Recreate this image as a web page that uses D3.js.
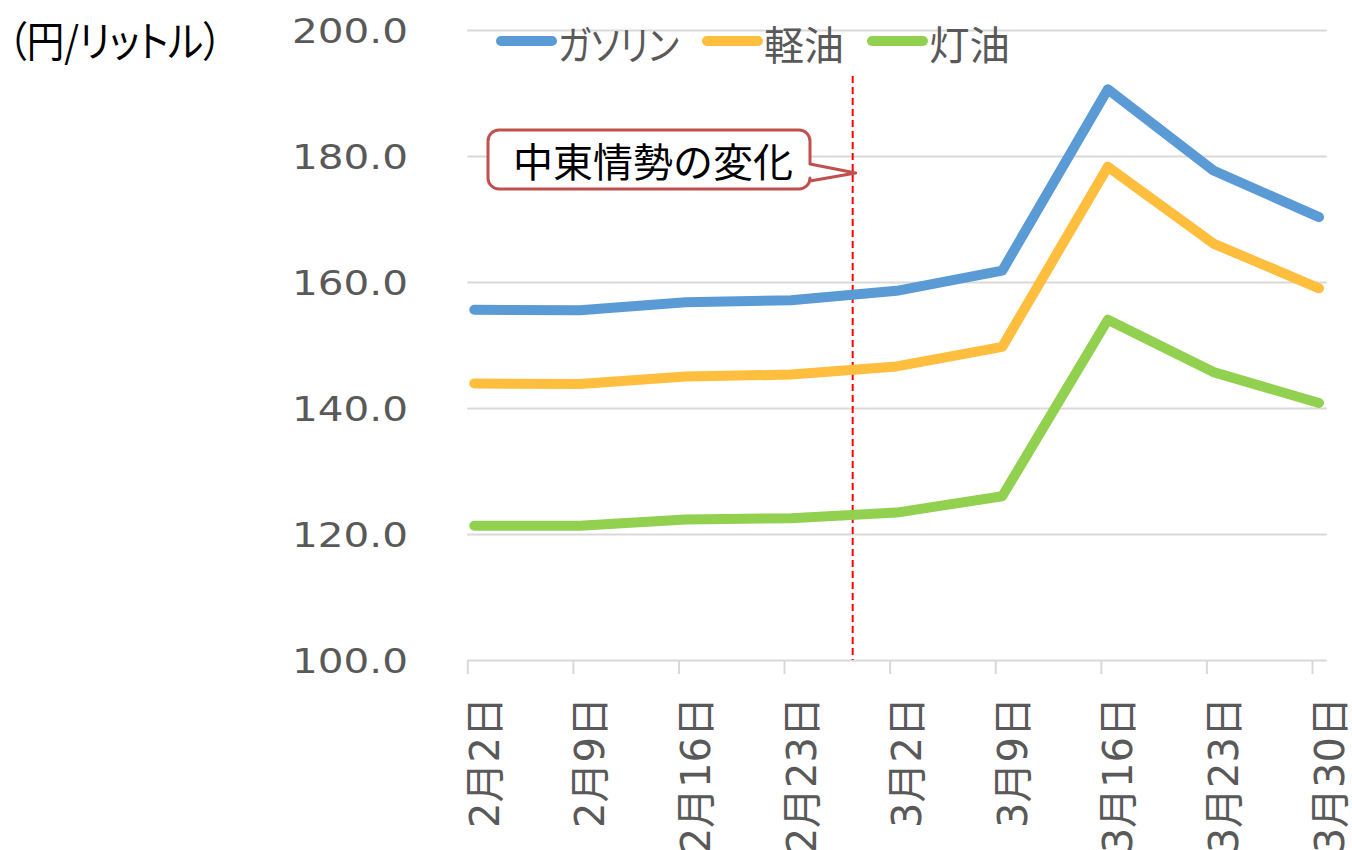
<!DOCTYPE html>
<html>
<head>
<meta charset="utf-8">
<script src="https://cdn.jsdelivr.net/npm/d3@7"></script>
<style>
  html, body { margin: 0; padding: 0; background: #fff; }
  svg { display: block; }
  .jp { font-family: "Noto Sans CJK JP", sans-serif; font-feature-settings: "palt"; }
</style>
</head>
<body>
<div id="chart"></div>
<script>
const categories = ['2月2日', '2月9日', '2月16日', '2月23日', '3月2日', '3月9日', '3月16日', '3月23日', '3月30日'];
const gasoline = [155.6, 155.5, 156.8, 157.1, 158.6, 161.8, 190.6, 177.7, 170.3];
const diesel = [143.9, 143.8, 145.0, 145.3, 146.6, 149.7, 178.3, 166.1, 159.0];
const kerosene = [121.3, 121.3, 122.3, 122.5, 123.4, 126.0, 154.0, 145.7, 140.8];
const seriesNames = ['ガソリン', '軽油', '灯油'];
const yTicks = [100, 120, 140, 160, 180, 200];
const eventIndex = 3.65; // between 2月23日 and 3月2日
const eventLabel = '中東情勢の変化';
const unitLabel = '（円/リットル）';

const width = 1352;
const height = 850;
const colors = ['#5b9bd5', '#ffbe3d', '#92d050'];
const gridColor = '#d9d9d9';
const textColor = '#595959';

const plotLeft = 467.3;
const plotRight = 1326.7;
const lastTick = 1312;
const pointOffset = 7;

const x = d3.scalePoint().domain(categories).range([plotLeft, lastTick]);
const xIndex = d3.scaleLinear().domain([0, categories.length - 1]).range([plotLeft, lastTick]);
const y = d3.scaleLinear().domain([100, 200]).range([660, 30]);

const svg = d3.select('#chart').append('svg')
  .attr('width', width)
  .attr('height', height);

// gridlines + y labels
const yAxis = svg.append('g')
  .attr('transform', `translate(${plotLeft},0)`)
  .call(d3.axisLeft(y)
    .tickValues(yTicks)
    .tickFormat(d3.format('.1f'))
    .tickSize(-(plotRight - plotLeft))
    .tickPadding(plotLeft - 408));
yAxis.select('.domain').remove();
yAxis.selectAll('line').attr('stroke', gridColor).attr('stroke-width', 2);
yAxis.selectAll('text')
  .attr('fill', textColor)
  .attr('font-family', '"DejaVu Sans", sans-serif')
  .attr('font-size', 34)
  .attr('dy', '0.36em')
  .attr('textLength', 116)
  .attr('lengthAdjust', 'spacingAndGlyphs');

// x axis ticks and labels
const xAxis = svg.append('g')
  .attr('transform', `translate(0,${y(100)})`)
  .call(d3.axisBottom(x).tickSize(14).tickSizeOuter(0));
xAxis.select('.domain').remove();
xAxis.selectAll('line').attr('stroke', gridColor).attr('stroke-width', 2);
xAxis.selectAll('text')
  .attr('fill', textColor)
  .attr('font-family', '"DejaVu Sans", "Noto Sans CJK JP", sans-serif')
  .attr('font-size', 40)
  .attr('text-anchor', 'end')
  .attr('dy', null)
  .attr('y', null)
  .attr('dominant-baseline', 'central')
  .attr('transform', 'translate(17,37) rotate(-90)');

// event line
const ex = xIndex(eventIndex);
svg.append('line')
  .attr('x1', ex).attr('x2', ex)
  .attr('y1', 76).attr('y2', y(100))
  .attr('stroke', '#ff0000')
  .attr('stroke-width', 2)
  .attr('stroke-dasharray', '7,4');

// series lines
const line = d3.line()
  .x((d, i) => x(categories[i]) + pointOffset)
  .y(d => y(d));

[gasoline, diesel, kerosene].forEach((values, i) => {
  svg.append('path')
    .datum(values)
    .attr('d', line)
    .attr('fill', 'none')
    .attr('stroke', colors[i])
    .attr('stroke-width', 10)
    .attr('stroke-linecap', 'round')
    .attr('stroke-linejoin', 'round');
});

// callout
const tipX = ex + 3;
const tipY = 173;
const bx0 = 488, bx1 = 810, by0 = 130, by1 = 189, r = 11;
const callout = d3.path();
callout.moveTo(bx0 + r, by0);
callout.lineTo(bx1 - r, by0);
callout.arcTo(bx1, by0, bx1, by0 + r, r);
callout.lineTo(bx1, 164);
callout.lineTo(tipX, tipY);
callout.lineTo(bx1, 181);
callout.lineTo(bx1, by1 - r);
callout.arcTo(bx1, by1, bx1 - r, by1, r);
callout.lineTo(bx0 + r, by1);
callout.arcTo(bx0, by1, bx0, by1 - r, r);
callout.lineTo(bx0, by0 + r);
callout.arcTo(bx0, by0, bx0 + r, by0, r);
callout.closePath();
svg.append('path')
  .attr('d', callout.toString())
  .attr('fill', '#fff')
  .attr('stroke', '#c0504d')
  .attr('stroke-width', 3)
  .attr('stroke-linejoin', 'round');
svg.append('text')
  .attr('class', 'jp')
  .attr('x', 513)
  .attr('y', 160)
  .attr('dominant-baseline', 'central')
  .attr('font-size', 40)
  .attr('fill', '#000')
  .style('font-feature-settings', 'normal')
  .text(eventLabel);

// unit label
svg.append('text')
  .attr('class', 'jp')
  .attr('x', 8)
  .attr('y', 38)
  .attr('dominant-baseline', 'central')
  .attr('font-size', 42)
  .attr('fill', '#000')
  .attr('textLength', 214)
  .attr('lengthAdjust', 'spacingAndGlyphs')
  .text(unitLabel);

// legend
const legendTextWidths = [121, 80, 81];
let lx = 496;
const ly = 41;
seriesNames.forEach((name, i) => {
  svg.append('line')
    .attr('x1', lx + 5).attr('x2', lx + 56)
    .attr('y1', ly).attr('y2', ly)
    .attr('stroke', colors[i])
    .attr('stroke-width', 10)
    .attr('stroke-linecap', 'round');
  svg.append('text')
    .attr('class', 'jp')
    .attr('x', lx + 62)
    .attr('y', ly + 2)
    .attr('dominant-baseline', 'central')
    .attr('font-size', 40)
    .attr('fill', textColor)
    .attr('textLength', legendTextWidths[i])
    .attr('lengthAdjust', 'spacingAndGlyphs')
    .text(name);
  lx += 62 + legendTextWidths[i] + 23;
});
</script>
</body>
</html>
